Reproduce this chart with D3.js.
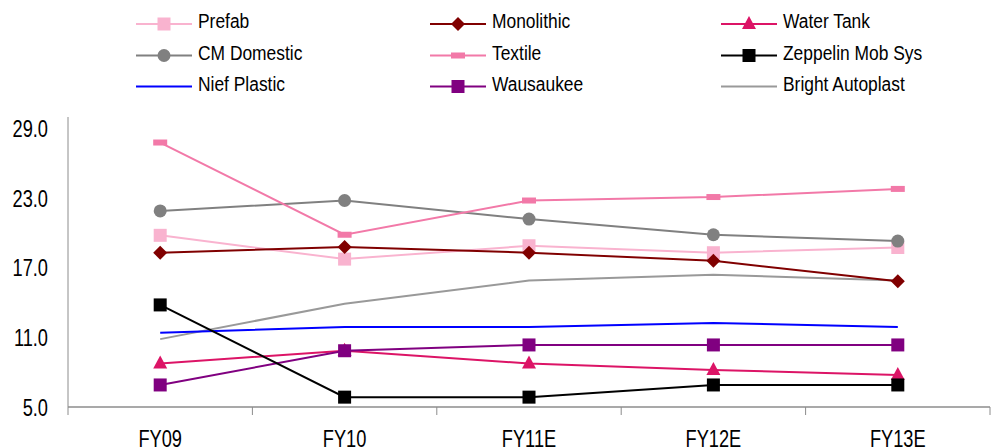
<!DOCTYPE html>
<html>
<head>
<meta charset="utf-8">
<script src="https://cdn.jsdelivr.net/npm/d3@7"></script>
<style>
  body { margin: 0; background: #fff; }
  svg text { font-family: "Liberation Sans", Arial, sans-serif; fill: #000; }
</style>
</head>
<body>
<svg id="chart" width="992" height="448"></svg>
<script>
var years = ["FY09", "FY10", "FY11E", "FY12E", "FY13E"];
var yTicks = [5, 11, 17, 23, 29];

var prefab = [19.8, 17.75, 18.9, 18.3, 18.75];
var monolithic = [18.3, 18.8, 18.3, 17.6, 15.85];
var waterTank = [8.75, 9.85, 8.75, 8.2, 7.75];
var cmDomestic = [21.9, 22.8, 21.2, 19.85, 19.3];
var textile = [27.8, 19.85, 22.8, 23.1, 23.8];
var zeppelin = [13.8, 5.85, 5.85, 6.9, 6.9];
var niefPlastic = [11.4, 11.9, 11.9, 12.25, 11.9];
var wausaukee = [6.9, 9.85, 10.35, 10.35, 10.35];
var brightAutoplast = [10.85, 13.9, 15.9, 16.4, 15.9];

var series = [
    { name: "Prefab", values: prefab, color: "#f9b3cf", marker: "square" },
    { name: "Monolithic", values: monolithic, color: "#800000", marker: "diamond" },
    { name: "Water Tank", values: waterTank, color: "#dc1466", marker: "triangle" },
    { name: "CM Domestic", values: cmDomestic, color: "#808080", marker: "circle" },
    { name: "Textile", values: textile, color: "#f279a8", marker: "bar" },
    { name: "Zeppelin Mob Sys", values: zeppelin, color: "#000000", marker: "square" },
    { name: "Nief Plastic", values: niefPlastic, color: "#0000ff", marker: "none" },
    { name: "Wausaukee", values: wausaukee, color: "#800080", marker: "square" },
    { name: "Bright Autoplast", values: brightAutoplast, color: "#999999", marker: "none" }
];

var svg = d3.select("svg#chart"),
    margin = { left: 68, right: 2, top: 117, bottom: 41 },
    width = +svg.attr("width"),
    height = +svg.attr("height");

var x_scale = d3.scaleBand()
    .domain(years)
    .range([margin.left, width - margin.right]);

var y_scale = d3.scaleLinear()
    .domain([5, 30])
    .range([height - margin.bottom, margin.top]);

var g = svg.append("g");

// condensed text: the source font is narrow, so squeeze horizontally
function narrowText(parent, x, y, txt, size, sx, anchor) {
    return parent.append("g")
        .attr("transform", "translate(" + x + "," + y + ") scale(" + sx + ",1)")
        .append("text")
        .style("font-size", size + "px")
        .style("text-anchor", anchor)
        .text(txt);
}

// axes
var x0 = margin.left, y0 = height - margin.bottom;
g.append("line")
    .attr("x1", x0).attr("x2", x0)
    .attr("y1", margin.top).attr("y2", y0 + 8)
    .style("stroke", "#8c8c8c").style("stroke-width", 1);
g.append("line")
    .attr("x1", x0).attr("x2", width - margin.right)
    .attr("y1", y0).attr("y2", y0)
    .style("stroke", "#8c8c8c").style("stroke-width", 1.5);

g.selectAll(".xtick")
    .data(years)
    .enter()
    .append("line")
    .attr("class", "xtick")
    .attr("x1", d => x_scale(d) + x_scale.bandwidth())
    .attr("x2", d => x_scale(d) + x_scale.bandwidth())
    .attr("y1", y0)
    .attr("y2", y0 + 8)
    .style("stroke", "#8c8c8c");

years.forEach(function (d) {
    narrowText(g, x_scale(d) + x_scale.bandwidth() / 2, 447, d, 24, 0.76, "middle");
});

yTicks.forEach(function (d) {
    narrowText(g, 48, y_scale(d) + 8.5, d.toFixed(1), 24, 0.76, "end");
});

// marker drawing
function drawMarker(sel, type, color) {
    if (type === "square") {
        sel.append("rect").attr("x", -6.5).attr("y", -6.5).attr("width", 13).attr("height", 13).style("fill", color);
    } else if (type === "diamond") {
        sel.append("path").attr("d", "M0,-7L7,0L0,7L-7,0Z").style("fill", color);
    } else if (type === "triangle") {
        sel.append("path").attr("d", "M0,-8L7,5L-7,5Z").style("fill", color);
    } else if (type === "circle") {
        sel.append("circle").attr("r", 6.5).style("fill", color);
    } else if (type === "bar") {
        sel.append("rect").attr("x", -7).attr("y", -3).attr("width", 14).attr("height", 6).style("fill", color);
    }
}

var line = d3.line()
    .x((d, i) => x_scale(years[i]) + x_scale.bandwidth() / 2)
    .y(d => y_scale(d));

var drawOrder = [8, 6, 0, 1, 3, 4, 2, 7, 5];
drawOrder.forEach(function (k) {
    var s = series[k];
    var sg = g.append("g");
    sg.append("path")
        .attr("d", line(s.values))
        .style("fill", "none")
        .style("stroke", s.color)
        .style("stroke-width", 2);
    s.values.forEach(function (v, i) {
        var m = sg.append("g")
            .attr("transform", "translate(" + (x_scale(years[i]) + x_scale.bandwidth() / 2) + "," + y_scale(v) + ")");
        drawMarker(m, s.marker, s.color);
    });
});

// legend
var legCols = [136, 430, 721],
    legRows = [24, 55.5, 86.5];
series.forEach(function (s, i) {
    var lx = legCols[i % 3], ly = legRows[Math.floor(i / 3)];
    var lg = g.append("g").attr("transform", "translate(" + lx + "," + ly + ")");
    lg.append("line")
        .attr("x1", 0).attr("x2", 56)
        .attr("y1", 0).attr("y2", 0)
        .style("stroke", s.color)
        .style("stroke-width", 2);
    var m = lg.append("g").attr("transform", "translate(28,0)");
    drawMarker(m, s.marker, s.color);
    narrowText(lg, 62, 4, s.name, 20, 0.87, "start");
});
</script>
</body>
</html>
